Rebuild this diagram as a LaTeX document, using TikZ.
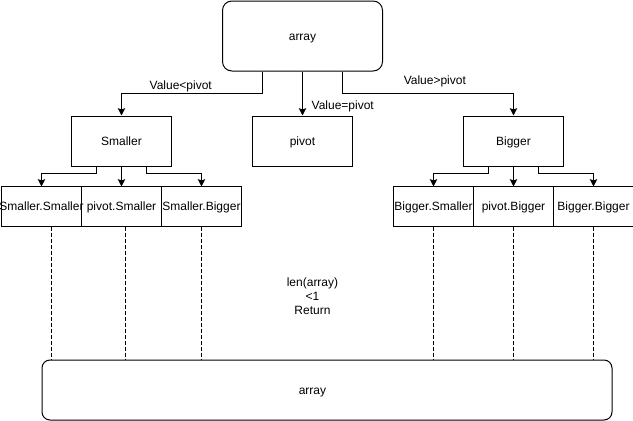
\documentclass[tikz,border=0pt]{standalone}
\usepackage{fontspec}
\setmainfont{Liberation Sans}
\usetikzlibrary{arrows.meta,positioning}

\begin{document}
\begin{tikzpicture}[
  x=0.75pt, y=-0.75pt,
  font=\fontsize{9}{10.5}\selectfont,
  line width=0.75pt,
  txt/.style={text height=8.1pt, text depth=1.9pt},
  block/.style={rectangle, draw, txt, minimum width=75pt, minimum height=37.5pt, inner sep=0pt},
  leaf/.style={rectangle, draw, txt, minimum width=60pt, minimum height=30pt, inner sep=0pt, outer sep=0pt},
  rblock/.style={rectangle, draw, txt, rounded corners=7pt, inner sep=0pt},
  lbl/.style={inner sep=0.5pt},
  arr/.style={-{Stealth[length=5.5pt,width=5.5pt,inset=1pt]}},
  dashline/.style={dash pattern=on 3pt off 1.5pt}
]
\useasboundingbox (0,0) rectangle (633,421);

% Top
\node[rblock, minimum width=120pt, minimum height=52.5pt] (input) at (302.5,36) {array};

% Split
\node[block, below=33pt of input] (pivot) {pivot};
\node[block, left=60pt of pivot] (smaller) {Smaller};
\node[block, right=82.5pt of pivot] (bigger) {Bigger};

\draw[arr] ([xshift=-30pt]input.south) -- ++(0,22) -| node[lbl, above, pos=0.29] {Value<pivot} (smaller.north);
\draw[arr] (input) -- node[lbl, right, pos=0.8, xshift=6pt] {Value=pivot} (pivot);
\draw[arr] ([xshift=30pt]input.south) -- ++(0,22) -| node[lbl, above, pos=0.27, yshift=3.7pt] {Value>pivot} (bigger.north);

% Smaller parts
\node[leaf, below=15pt of smaller] (ps) {pivot.Smaller};
\node[leaf, left=0pt of ps] (ss) {\makebox[60pt]{Smaller.Smaller}};
\node[leaf, right=0pt of ps] (sb) {Smaller.Bigger};

\draw[arr] ([xshift=-18.75pt]smaller.south) -- ++(0,7) -| (ss.north);
\draw[arr] (smaller) -- (ps);
\draw[arr] ([xshift=18.75pt]smaller.south) -- ++(0,7) -| (sb.north);

% Bigger parts
\node[leaf, below=15pt of bigger] (pb) {pivot.Bigger};
\node[leaf, left=0pt of pb] (bs) {Bigger.Smaller};
\node[leaf, right=0pt of pb] (bb) {Bigger.Bigger};

\draw[arr] ([xshift=-18.75pt]bigger.south) -- ++(0,7) -| (bs.north);
\draw[arr] (bigger) -- (pb);
\draw[arr] ([xshift=18.75pt]bigger.south) -- ++(0,7) -| (bb.north);

% Merge
\node[rblock, rounded corners=6pt, minimum width=427.5pt, minimum height=45pt,
  label={[txt, xshift=-10.9pt]center:array}] (output) at (327,390) {};
\node[align=center] (cond) at (312.5,296) {len(array)\\<1\\Return};

\coordinate (d1) at ([xshift=7.5pt]ss.south);
\coordinate (d2) at ([xshift=3pt]ps.south);
\draw[dashline] (d1) -- (d1 |- output.north);
\draw[dashline] (d2) -- (d2 |- output.north);
\draw[dashline] (sb.south) -- (sb.south |- output.north);
\draw[dashline] (bs.south) -- (bs.south |- output.north);
\draw[dashline] (pb.south) -- (pb.south |- output.north);
\draw[dashline] (bb.south) -- (bb.south |- output.north);

\end{tikzpicture}
\end{document}
